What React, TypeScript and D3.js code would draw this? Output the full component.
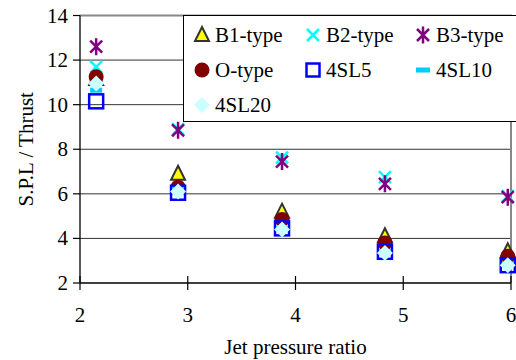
import React from "react";
import * as d3 from "d3";

const jetPressureRatio = [2.15, 2.91, 3.875, 4.83, 5.97];
const b1Type = [11.15, 6.9, 5.2, 4.1, 3.42];
const b2Type = [11.7, 8.9, 7.62, 6.75, 5.9];
const b3Type = [12.6, 8.85, 7.45, 6.45, 5.85];
const oType = [11.25, 6.3, 4.85, 3.8, 3.2];
const sl5 = [10.15, 6.05, 4.45, 3.4, 2.8];
const sl10 = [10.65, 6.2, 4.45, 3.4, 2.85];
const sl20 = [10.95, 6.1, 4.4, 3.35, 2.8];

const xTicks = [2, 3, 4, 5, 6];
const yTicks = [2, 4, 6, 8, 10, 12, 14];

const seriesNames = ["B1-type", "B2-type", "B3-type", "O-type", "4SL5", "4SL10", "4SL20"];
const seriesValues = [b1Type, b2Type, b3Type, oType, sl5, sl10, sl20];
const markerKinds = ["triangle", "x", "asterisk", "circle", "square", "dash", "diamond"];

const FONT = "'Liberation Serif', 'Times New Roman', serif";

function Marker({ kind, x, y }: { kind: string; x: number; y: number }) {
  const t = `translate(${x},${y})`;
  switch (kind) {
    case "triangle":
      return <path transform={t} d="M0,-8L7,6L-7,6Z" fill="#ffff00" stroke="#333333" strokeWidth={2} strokeLinejoin="miter" />;
    case "x":
      return <path transform={t} d="M-6,-6L6,6M-6,6L6,-6" stroke="#00ffff" strokeWidth={2.5} fill="none" />;
    case "asterisk":
      return <path transform={t} d="M-6,-6L6,6M-6,6L6,-6M0,-8.5L0,8.5" stroke="#800080" strokeWidth={2.5} fill="none" />;
    case "circle":
      return <circle cx={x} cy={y} r={7.5} fill="#800000" />;
    case "square":
      return <rect x={x - 7} y={y - 7} width={14} height={14} fill="none" stroke="#0000ff" strokeWidth={2.5} />;
    case "dash":
      return <rect x={x - 6} y={y - 2.5} width={12} height={5} fill="#00ccff" />;
    case "diamond":
      return <path transform={t} d="M0,-8L8,0L0,8L-8,0Z" fill="#ccffff" />;
    default:
      return null;
  }
}

export default function App() {
  const left = 80, right = 511, top = 15.5, bottom = 283;
  const x = d3.scaleLinear().domain([2, 6]).range([left, right]);
  const y = d3.scaleLinear().domain([2, 14]).range([bottom, top]);

  const legendCols = [202, 313, 423];
  const legendRows = [35, 70, 105];

  return (
    <svg width={516} height={360} style={{ position: "absolute", left: 0, top: 0, background: "#fff" }} fontFamily={FONT}>
      <rect x={0} y={0} width={516} height={360} fill="#fff" />
      {yTicks.filter((v) => v > 2 && v < 14).map((v) => (
        <line key={"g" + v} x1={left} x2={right} y1={y(v)} y2={y(v)} stroke="#333" strokeWidth={1} />
      ))}
      <line x1={left} x2={right + 1} y1={y(14)} y2={y(14)} stroke="#888" strokeWidth={2} />
      <line x1={right} x2={right} y1={y(14)} y2={bottom} stroke="#888" strokeWidth={2} />
      <line x1={left} x2={left} y1={y(14)} y2={bottom} stroke="#000" strokeWidth={1.3} />
      <line x1={left} x2={right} y1={bottom} y2={bottom} stroke="#000" strokeWidth={1.3} />
      {yTicks.map((v) => (
        <g key={"yt" + v}>
          <line x1={left - 7} x2={left} y1={y(v)} y2={y(v)} stroke="#000" strokeWidth={1.2} />
          <text x={left - 12} y={y(v) + 7} textAnchor="end" fontSize={21} fill="#000">{v}</text>
        </g>
      ))}
      {xTicks.map((v) => (
        <g key={"xt" + v}>
          <line x1={x(v)} x2={x(v)} y1={bottom - 7} y2={bottom + 7} stroke="#000" strokeWidth={1.2} />
          <text x={x(v)} y={322} textAnchor="middle" fontSize={21} fill="#000">{v}</text>
        </g>
      ))}
      {seriesValues.map((vals, si) =>
        vals.map((v, i) => (
          <Marker key={si + "-" + i} kind={markerKinds[si]} x={x(jetPressureRatio[i])} y={y(v)} />
        ))
      )}
      <rect x={183.5} y={15.5} width={360} height={106} fill="#fff" stroke="#000" strokeWidth={1} />
      {seriesNames.map((name, i) => {
        const cx = legendCols[i % 3];
        const cy = legendRows[Math.floor(i / 3)];
        return (
          <g key={"lg" + name}>
            {markerKinds[i] === "square" ? (
              <rect x={cx - 6.5} y={cy - 6.5} width={13} height={13} fill="#fff" stroke="#0000ff" strokeWidth={2.5} />
            ) : markerKinds[i] === "dash" ? (
              <rect x={cx - 7} y={cy - 2.5} width={14} height={5} fill="#00ccff" />
            ) : (
              <Marker kind={markerKinds[i]} x={cx} y={cy} />
            )}
            <text x={cx + 13} y={cy + 7} fontSize={21} fill="#000">{name}</text>
          </g>
        );
      })}
      <text x={(left + right) / 2} y={354} textAnchor="middle" fontSize={21} fill="#000">Jet pressure ratio</text>
      <text transform={`translate(33,${(top + bottom) / 2}) rotate(-90)`} textAnchor="middle" fontSize={21} fill="#000">S.P.L / Thrust</text>
    </svg>
  );
}
